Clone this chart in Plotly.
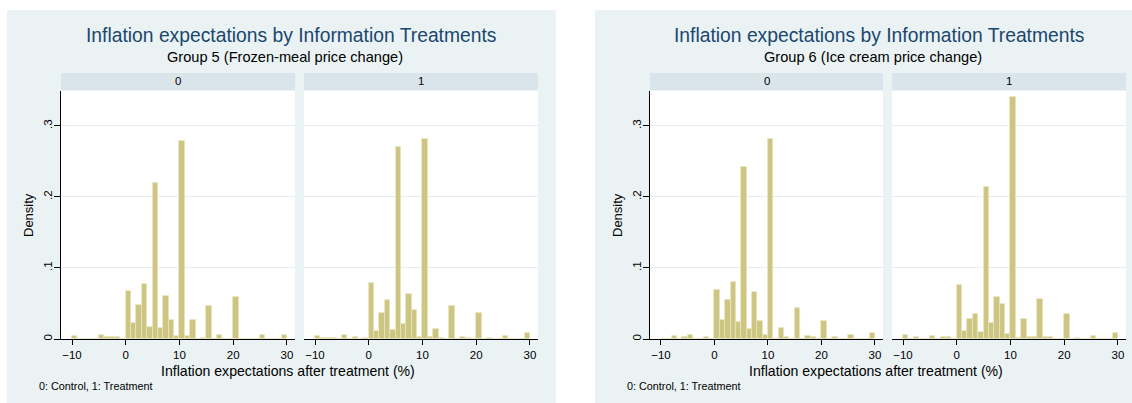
import plotly.graph_objects as go

W, H = 1132, 403

# ---------------- data ----------------
bin_edges = list(range(-10, 30))  # left edges of 1-unit bins
x_ticks = [-10, 0, 10, 20, 30]
y_ticks = [0, 0.1, 0.2, 0.3]
y_ticklabels = ["0", ".1", ".2", ".3"]

g5_control = [0.0042, 0, 0, 0, 0, 0.0056, 0.0023, 0.0023, 0.0023, 0,
              0.068, 0.0225, 0.048, 0.078, 0.0174, 0.220, 0.0155, 0.061, 0.027, 0.0042,
              0.279, 0.0038, 0.027, 0, 0.002, 0.047, 0, 0.0056, 0, 0,
              0.059, 0, 0, 0, 0, 0.0056, 0, 0, 0, 0.0056]
g5_treatment = [0.0047, 0.0019, 0.0019, 0.0019, 0, 0.006, 0, 0.0033, 0, 0.002,
                0.079, 0.011, 0.036, 0.055, 0.012, 0.2695, 0.021, 0.063, 0.041, 0.0033,
                0.282, 0.0033, 0.014, 0.002, 0, 0.046, 0, 0.003, 0.002, 0,
                0.036, 0, 0.002, 0, 0, 0.0047, 0, 0, 0, 0.0085]
g6_control = [0, 0, 0.0038, 0, 0.0023, 0.0056, 0, 0, 0.0023, 0,
              0.0685, 0.027, 0.055, 0.080, 0.0235, 0.242, 0.014, 0.066, 0.026, 0.0056,
              0.281, 0, 0.0155, 0.0023, 0, 0.0437, 0, 0.0038, 0.0028, 0,
              0.026, 0, 0.0023, 0, 0, 0.0056, 0, 0, 0, 0.0085]
g6_treatment = [0.005, 0, 0.0023, 0, 0, 0.0047, 0, 0.0028, 0.0023, 0,
                0.0756, 0.0117, 0.0286, 0.0357, 0.0094, 0.2136, 0.022, 0.059, 0.049, 0.007,
                0.341, 0.0014, 0.0277, 0.0023, 0.0023, 0.0563, 0.0023, 0.0028, 0, 0,
                0.035, 0, 0.0014, 0, 0, 0.0042, 0, 0, 0, 0.009]

main_title = "Inflation expectations by Information Treatments"
subtitles = ["Group 5 (Frozen-meal price change)", "Group 6 (Ice cream price change)"]
strip_labels = ["0", "1"]
x_title = "Inflation expectations after treatment (%)"
y_title = "Density"
note_text = "0: Control, 1: Treatment"

# ---------------- layout geometry (pixels) ----------------
FONT = "Liberation Sans, Arial, Helvetica, sans-serif"
BAR_COLOR = "rgb(205,197,130)"
BAR_LINE = "rgb(232,228,190)"
BG = "#eaf2f3"
STRIP = "#d9e5ea"
NAVY = "#1a476f"
GRID = "#e3ecee"

def px(x):
    return x / W

def py(y):
    return 1 - y / H

graphs = [
    dict(bg=(7, 10, 556, 403), panels=[(61, 295), (304, 538)], title_cx=291, xtitle_cx=288,
         note_x=37, data=[g5_control, g5_treatment], sub=subtitles[0]),
    dict(bg=(595, 10, 1144, 403), panels=[(650, 883), (892, 1126)], title_cx=879, xtitle_cx=876,
         note_x=625, data=[g6_control, g6_treatment], sub=subtitles[1]),
]
PLOT_TOP, PLOT_BOT = 91, 339
STRIP_TOP, STRIP_BOT = 73, 90
X_RANGE = [-12.05, 31.5]
Y_RANGE = [0, 0.349]

fig = go.Figure()
shapes = []
annotations = []
centers = [e + 0.5 for e in bin_edges]

ax_i = 0
for g in graphs:
    x0, y0, x1, y1 = g["bg"]
    shapes.append(dict(type="rect", xref="paper", yref="paper", x0=px(x0), x1=px(x1),
                       y0=py(y1), y1=py(y0), fillcolor=BG, line=dict(width=0), layer="below"))
    annotations.append(dict(text=main_title, x=px(g["title_cx"]), y=py(35.5), xref="paper", yref="paper",
                            showarrow=False, xanchor="center", yanchor="middle",
                            font=dict(family=FONT, size=19.3, color=NAVY)))
    annotations.append(dict(text=g["sub"], x=px(g["title_cx"] - 6), y=py(57.5), xref="paper", yref="paper",
                            showarrow=False, xanchor="center", yanchor="middle",
                            font=dict(family=FONT, size=14.6, color="black")))
    annotations.append(dict(text=x_title, x=px(g["xtitle_cx"]), y=py(371), xref="paper", yref="paper",
                            showarrow=False, xanchor="center", yanchor="middle",
                            font=dict(family=FONT, size=14.1, color="black")))
    annotations.append(dict(text=note_text, x=px(g["note_x"]), y=py(386), xref="paper", yref="paper",
                            showarrow=False, xanchor="left", yanchor="middle",
                            font=dict(family=FONT, size=10.8, color="black")))
    annotations.append(dict(text=y_title, x=px(g["panels"][0][0] - 33), y=py(215), xref="paper", yref="paper",
                            showarrow=False, xanchor="center", yanchor="middle", textangle=-90,
                            font=dict(family=FONT, size=13, color="black")))
    for j, (pl, pr) in enumerate(g["panels"]):
        ax_i += 1
        shapes.append(dict(type="rect", xref="paper", yref="paper", x0=px(pl), x1=px(pr),
                           y0=py(STRIP_BOT), y1=py(STRIP_TOP), fillcolor=STRIP, line=dict(width=0), layer="below"))
        shapes.append(dict(type="rect", xref="paper", yref="paper", x0=px(pl), x1=px(pr),
                           y0=py(PLOT_BOT), y1=py(PLOT_TOP), fillcolor="white", line=dict(width=0), layer="below"))
        annotations.append(dict(text=strip_labels[j], x=px((pl + pr) / 2), y=py((STRIP_TOP + STRIP_BOT) / 2),
                                xref="paper", yref="paper", showarrow=False, xanchor="center", yanchor="middle",
                                font=dict(family=FONT, size=11.5, color="black")))
        xa = "x" if ax_i == 1 else f"x{ax_i}"
        ya = "y" if ax_i == 1 else f"y{ax_i}"
        fig.add_trace(go.Bar(x=centers, y=g["data"][j], width=1.0, xaxis=xa, yaxis=ya,
                             marker=dict(color=BAR_COLOR, line=dict(color=BAR_LINE, width=0.8)),
                             showlegend=False, hoverinfo="x+y"))
        first = (j == 0)
        fig.update_layout(**{
            ("xaxis" if ax_i == 1 else f"xaxis{ax_i}"): dict(
                domain=[px(pl), px(pr)], anchor=ya, range=X_RANGE, tickvals=x_ticks,
                showline=True, linecolor="black", linewidth=1, ticks="outside", ticklen=5,
                tickcolor="black", showgrid=False, zeroline=False,
                tickfont=dict(family=FONT, size=11.5, color="black")),
            ("yaxis" if ax_i == 1 else f"yaxis{ax_i}"): dict(
                domain=[py(PLOT_BOT), py(PLOT_TOP)], anchor=xa, range=Y_RANGE,
                tickvals=y_ticks, ticktext=y_ticklabels, tickangle=-90,
                showline=first, linecolor="black", linewidth=1,
                ticks="outside" if first else "", ticklen=6, tickcolor="black",
                showticklabels=first, showgrid=True, gridcolor=GRID, gridwidth=1,
                ticklabelstandoff=-3,
                zeroline=False, tickfont=dict(family=FONT, size=11.5, color="black")),
        })

fig.update_layout(width=W, height=H, margin=dict(l=0, r=0, t=0, b=0),
                  paper_bgcolor="white", plot_bgcolor="rgba(0,0,0,0)",
                  shapes=shapes, annotations=annotations, bargap=0, showlegend=False)

fig.write_html("out.html")
